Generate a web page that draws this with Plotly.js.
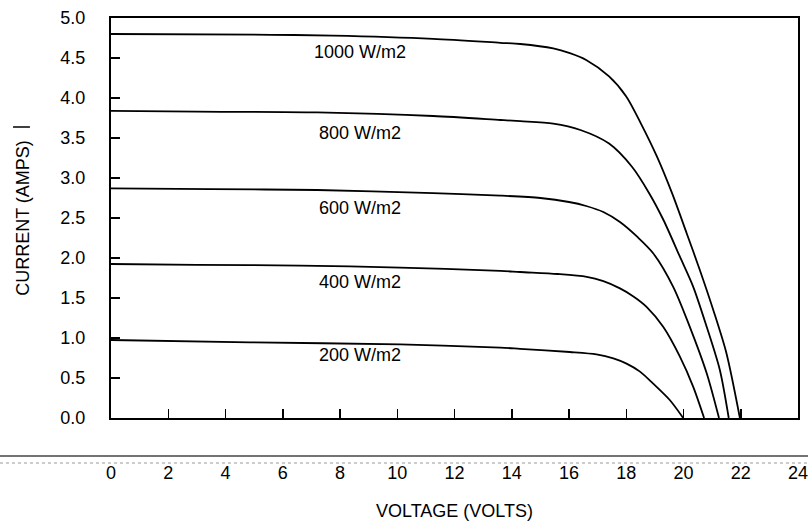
<!DOCTYPE html>
<html>
<head>
<meta charset="utf-8">
<script src="https://cdn.plot.ly/plotly-3.0.1.min.js"></script>
<style>html,body{margin:0;padding:0;background:#fff;}#chart{width:808px;height:523px;}</style>
</head>
<body>
<div id="chart"></div>
<script>
// Irradiance labels
const seriesNames = ["1000 W/m2", "800 W/m2", "600 W/m2", "400 W/m2", "200 W/m2"];

// Voltage (V) and current (A) for each curve
const v1000 = [0, 5.6, 7.75, 11.25, 13.6, 14.3, 15.45, 16.03, 16.6, 17.4, 18.0, 18.5, 19.07, 19.6, 20.11, 20.57, 21.04, 21.5, 21.97];
const i1000 = [4.80, 4.79, 4.78, 4.74, 4.69, 4.675, 4.62, 4.56, 4.475, 4.27, 4.02, 3.69, 3.27, 2.81, 2.31, 1.85, 1.35, 0.81, 0];

const v800 = [0, 3.0, 7.2, 11.25, 13.6, 14.3, 15.45, 16.4, 17.4, 18.2, 18.8, 19.3, 19.87, 20.34, 20.81, 21.27, 21.58];
const i800 = [3.84, 3.83, 3.82, 3.775, 3.725, 3.71, 3.68, 3.60, 3.43, 3.14, 2.81, 2.475, 2.02, 1.64, 1.14, 0.60, 0];

const v600 = [0, 3.5, 7.2, 11.25, 13.6, 15.0, 16.0, 16.6, 17.2, 17.78, 18.4, 18.94, 19.64, 20.22, 20.81, 21.24];
const i600 = [2.87, 2.86, 2.85, 2.81, 2.78, 2.75, 2.70, 2.65, 2.575, 2.45, 2.26, 2.06, 1.64, 1.14, 0.56, 0];

const v400 = [0, 3.0, 6.6, 10.1, 13.6, 14.29, 15.6, 16.62, 17.2, 17.78, 18.25, 18.71, 19.29, 19.87, 20.34, 20.72];
const i400 = [1.925, 1.915, 1.905, 1.88, 1.84, 1.825, 1.80, 1.765, 1.71, 1.62, 1.52, 1.39, 1.14, 0.77, 0.39, 0];

const v200 = [0, 4.86, 10.1, 13.6, 14.29, 16.03, 16.96, 17.55, 18.01, 18.48, 18.94, 19.52, 19.99];
const i200 = [0.975, 0.946, 0.92, 0.88, 0.865, 0.825, 0.795, 0.746, 0.68, 0.58, 0.43, 0.225, 0];

// Label anchor positions in data units
const labelX = [8.7, 8.7, 8.7, 8.7, 8.7];
const labelY = [4.575, 3.56, 2.625, 1.70, 0.79];

// Axis ticks
const xTicks = [0, 2, 4, 6, 8, 10, 12, 14, 16, 18, 20, 22, 24];
const yTicks = [0, 0.5, 1.0, 1.5, 2.0, 2.5, 3.0, 3.5, 4.0, 4.5, 5.0];

const FONT = "Liberation Sans, Arial, Helvetica, sans-serif";
const vs = [v1000, v800, v600, v400, v200];
const is = [i1000, i800, i600, i400, i200];

const traces = vs.map((v, k) => ({
  x: v, y: is[k], type: "scatter", mode: "lines", name: seriesNames[k],
  line: {color: "#000", width: 1.8, shape: "spline", smoothing: 0.8},
  hoverinfo: "x+y+name"
}));

const annotations = seriesNames.map((t, k) => ({
  x: labelX[k], y: labelY[k], xref: "x", yref: "y", text: t, showarrow: false,
  font: {family: FONT, size: 18, color: "#000"}
}));

const layout = {
  width: 808, height: 523,
  margin: {l: 111, r: 10, t: 18, b: 105},
  paper_bgcolor: "#fff", plot_bgcolor: "#fff",
  showlegend: false,
  font: {family: FONT, size: 18, color: "#000"},
  xaxis: {
    range: [0, 24], tickvals: xTicks, ticktext: xTicks.map(String),
    ticks: "inside", ticklen: 9, tickwidth: 1.5, tickcolor: "#000",
    showline: true, linecolor: "#000", linewidth: 2, mirror: true,
    showgrid: false, zeroline: false,
    ticklabelstandoff: 37, ticklabeloverflow: "allow",
    tickfont: {family: FONT, size: 18, color: "#000"},
    title: {text: "VOLTAGE (VOLTS)", font: {family: FONT, size: 18, color: "#000"}, standoff: 23}
  },
  yaxis: {
    range: [0, 5], tickvals: yTicks, ticktext: yTicks.map(t => t.toFixed(1)),
    ticks: "inside", ticklen: 9, tickwidth: 1.5, tickcolor: "#000",
    showline: true, linecolor: "#000", linewidth: 2, mirror: true,
    showgrid: false, zeroline: false,
    ticklabelstandoff: 20, ticklabeloverflow: "allow",
    tickfont: {family: FONT, size: 18, color: "#000"},
    title: {text: "CURRENT (AMPS)", font: {family: FONT, size: 18, color: "#000"}, standoff: 26}
  },
  annotations: annotations,
  shapes: [
    {type: "line", xref: "paper", yref: "paper", x0: -0.1616, x1: 1.0146, y0: -0.095, y1: -0.095,
     line: {color: "#444", width: 1.5}},
    {type: "line", xref: "paper", yref: "paper", x0: -0.1616, x1: 1.0146, y0: -0.1125, y1: -0.1125,
     line: {color: "#999", width: 1, dash: "dot"}},
    {type: "line", xref: "paper", yref: "paper", x0: -0.1426, x1: -0.118, y0: 0.7275, y1: 0.7275,
     line: {color: "#000", width: 1.5}}
  ]
};

Plotly.newPlot("chart", traces, layout, {displayModeBar: false, staticPlot: true});
</script>
</body>
</html>
